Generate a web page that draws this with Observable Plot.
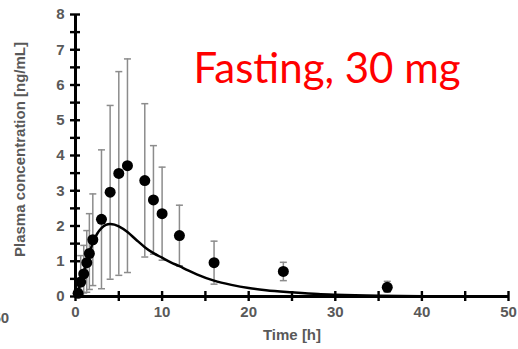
<!DOCTYPE html>
<html><head><meta charset="utf-8">
<script src="https://cdn.jsdelivr.net/npm/d3@7"></script>
<script src="https://cdn.jsdelivr.net/npm/@observablehq/plot@0.6"></script>
<style>body{margin:0;background:#fff;overflow:hidden}#c{position:relative;width:518px;height:349px}</style>
</head><body><div id="c"></div>
<script>
// observed means with SD bars
const times = [0.3, 0.6, 0.95, 1.3, 1.6, 2, 3, 4, 5, 6, 8, 9, 10, 12, 16, 24, 36];
const means = [0.09, 0.41, 0.64, 0.96, 1.22, 1.61, 2.19, 2.96, 3.49, 3.71, 3.29, 2.74, 2.35, 1.73, 0.96, 0.71, 0.26];
const lows  = [0.0, 0.05, 0.1, 0.12, 0.2, 0.31, 0.22, 0.49, 0.6, 0.68, 1.12, 1.2, 1.03, 0.87, 0.35, 0.45, 0.12];
const highs = [0.45, 1.16, 1.45, 1.87, 2.35, 2.91, 4.16, 5.42, 6.38, 6.74, 5.47, 4.28, 3.67, 2.59, 1.57, 0.97, 0.43];
// model prediction curve
const curveT = [0, 0.5, 1, 1.5, 2, 2.5, 3, 3.5, 4, 4.5, 5, 6, 7, 8, 9, 10, 11, 12, 13, 14, 16, 18, 20, 22, 25, 28, 30, 35, 40, 45];
const curveC = [0, 0.3, 0.72, 1.15, 1.52, 1.78, 1.94, 2.03, 2.06, 2.04, 1.99, 1.83, 1.61, 1.40, 1.23, 1.10, 0.97, 0.86, 0.74, 0.63, 0.45, 0.33, 0.24, 0.18, 0.12, 0.07, 0.05, 0.02, 0.01, 0.0];
const xTicks = [0, 10, 20, 30, 40, 50];
const xMinor = [0, 5, 10, 15, 20, 25, 30, 35, 40, 45, 50];
const yTicks = [0, 1, 2, 3, 4, 5, 6, 7, 8];
const yMinor = [0, 0.5, 1, 1.5, 2, 2.5, 3, 3.5, 4, 4.5, 5, 5.5, 6, 6.5, 7, 7.5, 8];
const title = "Fasting, 30 mg";
const xLabel = "Time [h]";
const yLabel = "Plasma concentration [ng/mL]";

const obs = times.map((t, i) => ({t, c: means[i], lo: lows[i], hi: highs[i]}));
const model = curveT.map((t, i) => ({t, c: curveC[i]}));
const cap = {draw(ctx) { ctx.moveTo(-3.5, 0); ctx.lineTo(3.5, 0); }};
const gray = "#595959";
const font = "'Liberation Sans', Arial, sans-serif";

const chart = Plot.plot({
  width: 518, height: 349,
  marginTop: 14, marginBottom: 53, marginLeft: 75, marginRight: 10,
  style: {fontFamily: font, background: "#fff"},
  x: {domain: [0, 50]},
  y: {domain: [0, 8]},
  marks: [
    Plot.ruleX(obs, {x: "t", y1: "lo", y2: "hi", stroke: "#8c8c8c", strokeWidth: 1.5}),
    Plot.dot(obs, {x: "t", y: "hi", symbol: cap, stroke: "#8c8c8c", strokeWidth: 1.5}),
    Plot.dot(obs, {x: "t", y: "lo", symbol: cap, stroke: "#8c8c8c", strokeWidth: 1.5}),
    Plot.line(model, {x: "t", y: "c", stroke: "#000", strokeWidth: 2.5, curve: "monotone-x"}),
    Plot.dot(obs, {x: "t", y: "c", r: 5.5, fill: "#000"}),
    Plot.ruleX([0], {stroke: "#000", strokeWidth: 3}),
    Plot.ruleY([0], {stroke: "#000", strokeWidth: 3}),
    Plot.ruleX(xMinor, {x: d => d, y1: 0, y2: 0, insetTop: -5, insetBottom: -5, stroke: "#000", strokeWidth: 2.4}),
    Plot.ruleY(yMinor, {y: d => d, x1: 0, x2: 0, insetLeft: -5, insetRight: -5, stroke: "#000", strokeWidth: 2.4}),
    Plot.axisX({ticks: xTicks, tickSize: 0, tickPadding: 10, label: null, fontSize: 15, fontWeight: "bold", color: gray}),
    Plot.axisY({ticks: yTicks, tickSize: 0, tickPadding: 11, label: null, fontSize: 15, fontWeight: "bold", color: gray}),
    Plot.text([xLabel], {frameAnchor: "bottom", dy: 43, fontSize: 15, fontWeight: "bold", fill: gray}),
    Plot.text([yLabel], {frameAnchor: "left", textAnchor: "middle", rotate: -90, dx: -55, dy: -6, fontSize: 15, fontWeight: "bold", fill: gray}),
    Plot.text([title], {frameAnchor: "top-left", dx: 118, dy: 39, textAnchor: "start", fontSize: 42, fontFamily: "Lato, 'Open Sans', sans-serif", fill: "#ff0000"}),
    Plot.text(["50"], {frameAnchor: "bottom-left", dx: -83, dy: 26, textAnchor: "start", fontSize: 15, fontWeight: "bold", fill: gray})
  ]
});
document.getElementById("c").appendChild(chart);
</script></body></html>
